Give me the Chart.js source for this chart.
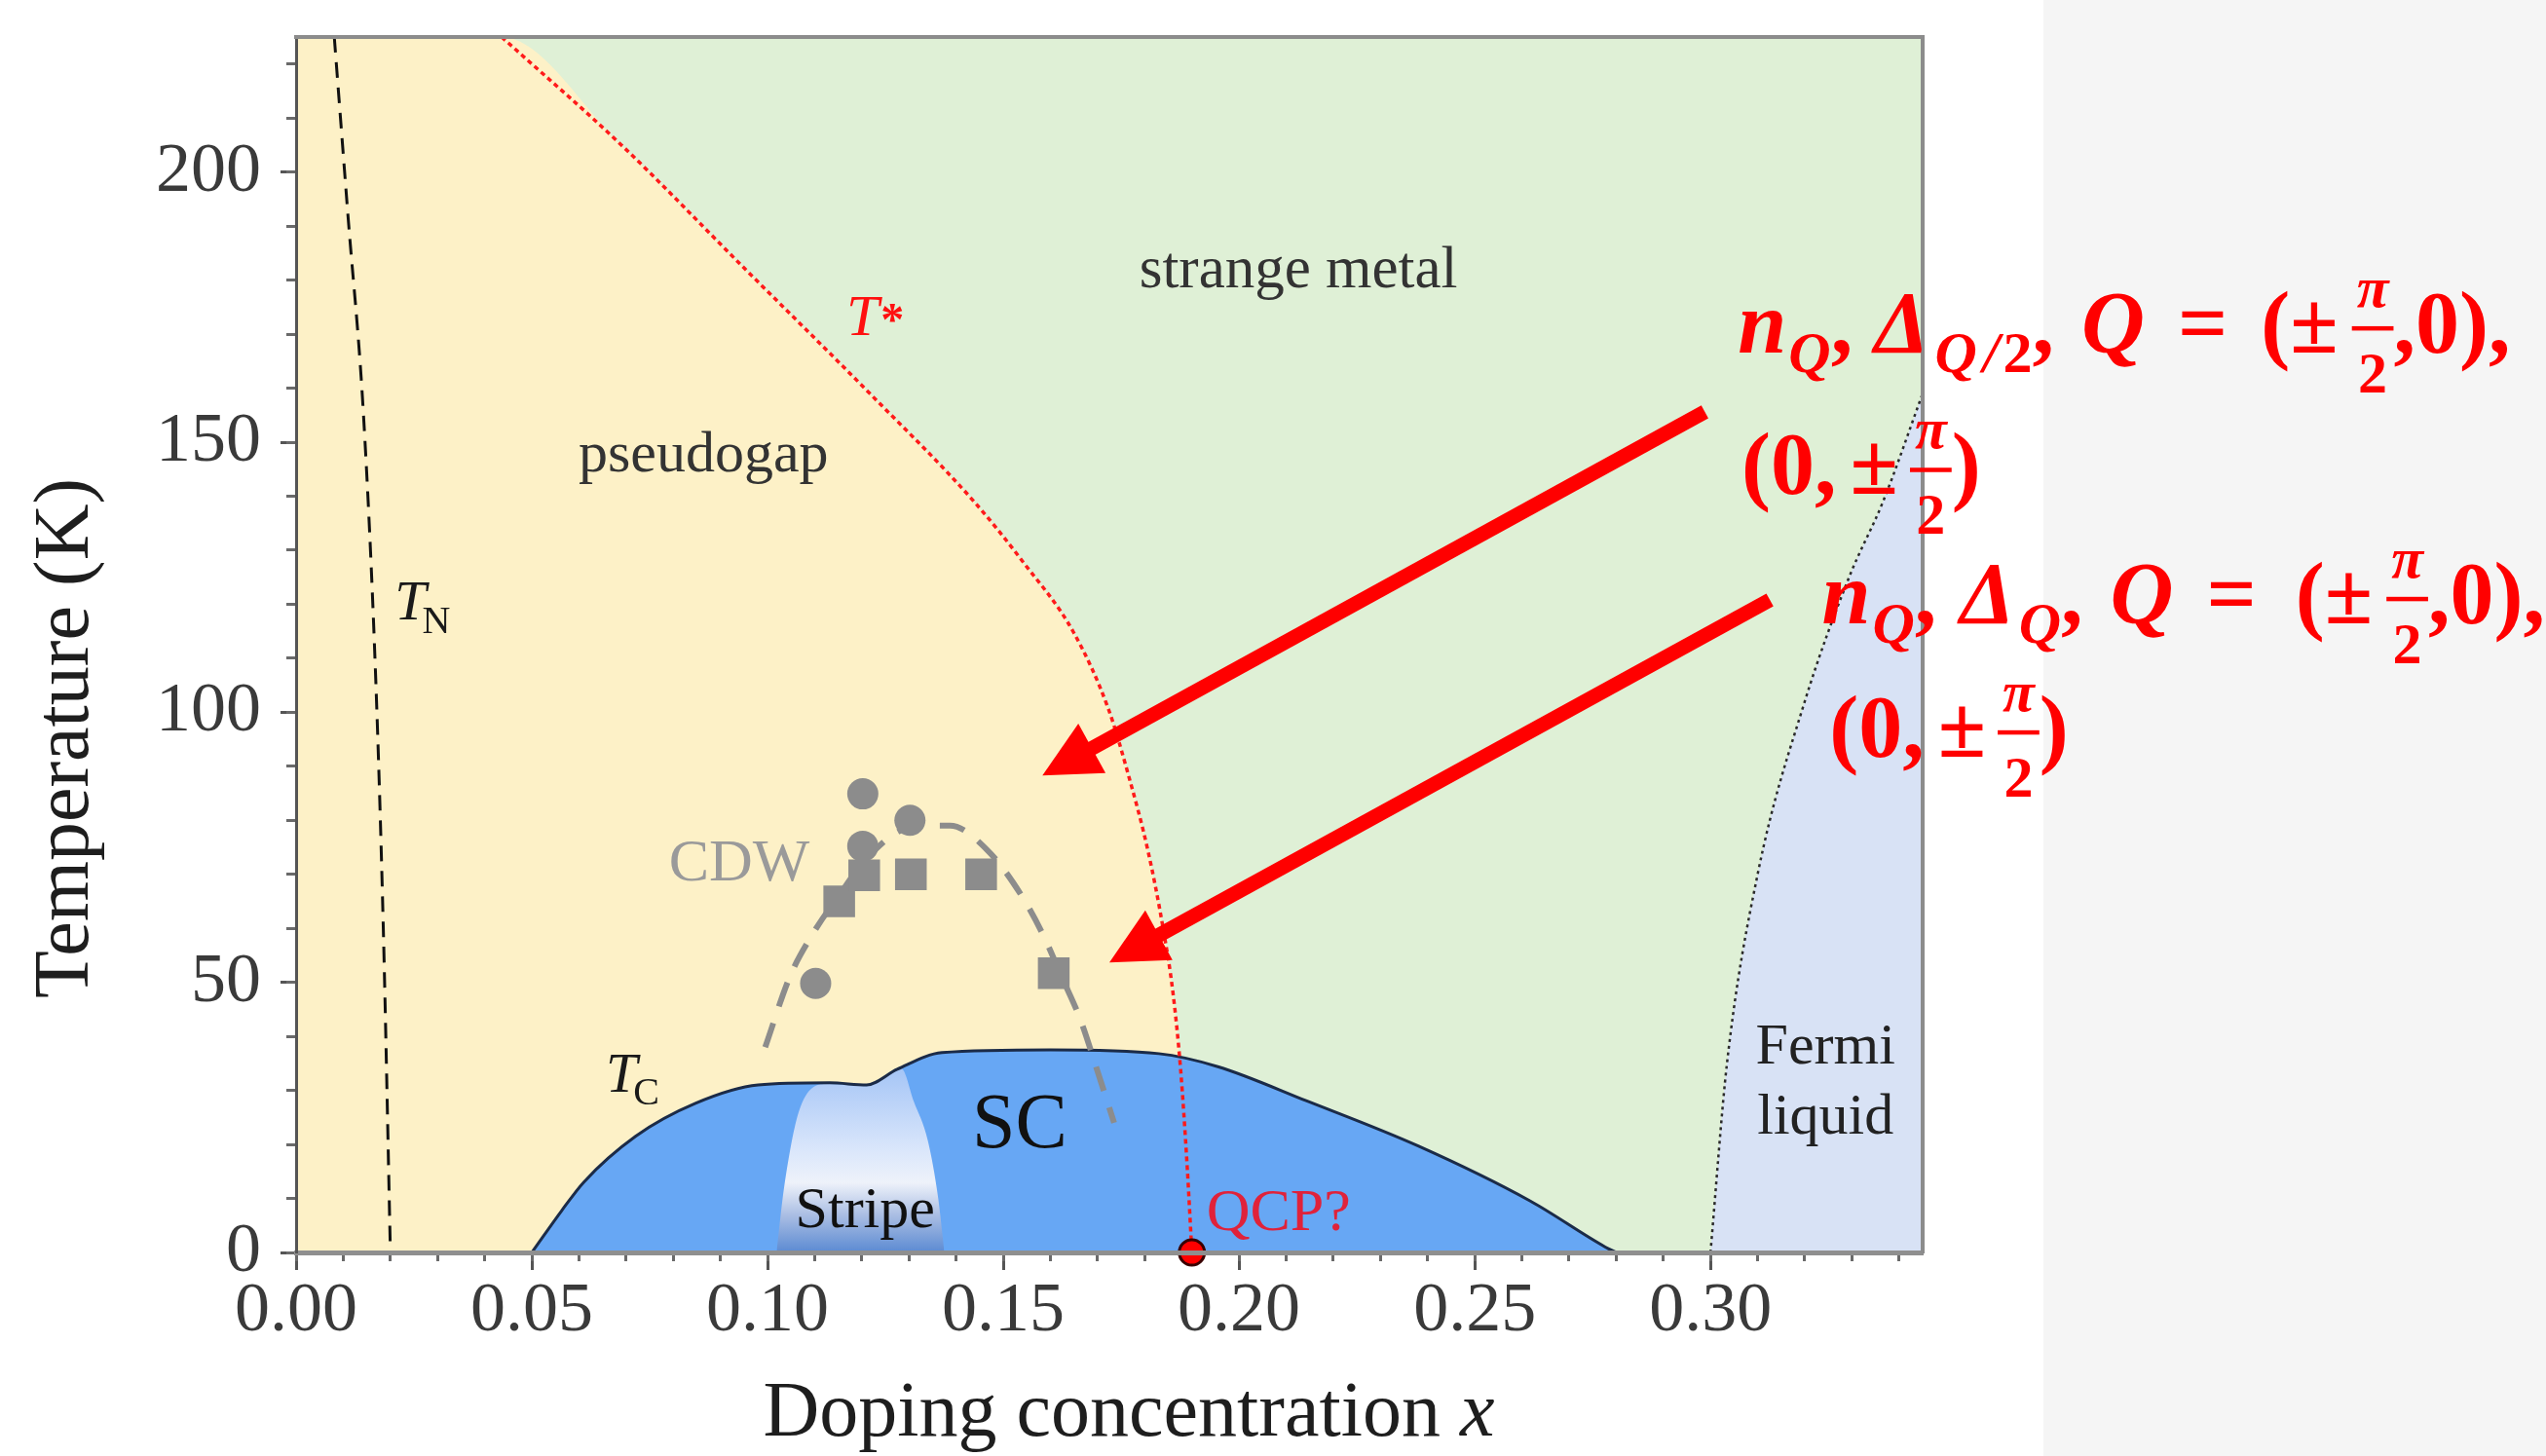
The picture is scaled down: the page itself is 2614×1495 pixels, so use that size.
<!DOCTYPE html>
<html>
<head>
<meta charset="utf-8">
<title>Cuprate phase diagram</title>
<script src="https://cdn.jsdelivr.net/npm/chart.js@4.4.1/dist/chart.umd.min.js"></script>
<style>
  html, body { margin: 0; padding: 0; }
  body {
    width: 2614px; height: 1495px; overflow: hidden;
    background: linear-gradient(to right, #ffffff 0, #ffffff 2098px, #f5f5f5 2098px);
  }
  canvas { display: block; }
</style>
</head>
<body>
<canvas id="phase" width="2614" height="1495"></canvas>
<script>
(function(){
  'use strict';

  // T* line (pseudogap onset)
  const tStarX = [0.0436, 0.069, 0.0953, 0.1217, 0.1438, 0.1543, 0.1649, 0.1723, 0.1765, 0.1807, 0.1839, 0.186, 0.1876, 0.189, 0.19];
  const tStarT = [225, 205, 182, 159, 139, 127.7, 114.8, 100.6, 88.5, 74.3, 60, 48, 34, 16, 0];

  // T_N line
  const tNeelX = [0.0081, 0.011, 0.0143, 0.0169, 0.0185, 0.02];
  const tNeelT = [225, 192, 155, 106, 60, 0];

  // Tc dome
  const domeX = [0.05, 0.0563, 0.061, 0.072, 0.0847, 0.098, 0.1132, 0.121, 0.1275, 0.137, 0.16, 0.183, 0.1955, 0.2145, 0.238, 0.2618, 0.2777, 0.28];
  const domeT = [0, 7.7, 13, 21.5, 27.6, 31, 31.4, 31, 33.9, 37, 37.5, 36.8, 34.4, 28, 19.7, 9.5, 1, 0];

  // stripe pocket inside the dome
  const stripeX = [0.1019, 0.1035, 0.107, 0.1126, 0.121, 0.1284, 0.131, 0.134, 0.1362, 0.1375];
  const stripeT = [0, 12, 27, 31.2, 30.8, 34, 28, 20.7, 10, 0];

  // Fermi liquid boundary
  const fermiX = [0.30, 0.3035, 0.31, 0.32, 0.3294, 0.3366, 0.345];
  const fermiT = [0, 35, 70, 102, 125, 139, 159];

  // CDW guide line and data
  const cdwX = [0.0995, 0.1047, 0.1094, 0.1153, 0.1213, 0.13, 0.1387, 0.1466, 0.1537, 0.1585, 0.1624, 0.1664, 0.170, 0.1735];
  const cdwT = [38, 51, 58.7, 66.3, 73.2, 78.6, 79, 74.5, 66.3, 58.7, 51, 43, 33.5, 24];
  const cdwCircleX = [0.1102, 0.1202, 0.1202, 0.1302];
  const cdwCircleT = [49.8, 84.9, 75.2, 80];
  const cdwSquareX = [0.1152, 0.1205, 0.1304, 0.1453, 0.1607];
  const cdwSquareT = [65, 69.8, 70, 70, 51.7];

  const qcpX = [0.19];
  const qcpT = [0];

  // annotation arrows (tail -> tip), data coordinates
  const arrowFromX = [0.2988, 0.3126];
  const arrowFromT = [155.6, 120.8];
  const arrowToX = [0.1583, 0.1725];
  const arrowToT = [88.3, 53.7];

  const xMin = 0, xMax = 0.345, xStep = 0.05, xMinorStep = 0.01;
  const tMin = 0, tMax = 225, tStep = 50, tMinorStep = 10;

  const green = '#dff0d6';
  const yellow = '#fdf1c7';
  const blue = '#67a7f4';
  const fermiBlue = '#d8e2f5';
  const red = '#ff0000';
  const serif = "'Liberation Serif', 'Times New Roman', serif";

  function pts(xs, ts) {
    return xs.map(function(x, i) { return {x: x, y: ts[i]}; });
  }

  function font(size, style) {
    return (style || '') + ' ' + size + 'px ' + serif;
  }

  let canvas = document.getElementById('phase');
  const smooth = 'monotone';

  let datasets = [
    {
      label: 'pseudogap',
      data: pts([0].concat(tStarX), [tMax].concat(tStarT)),
      borderWidth: 0, pointRadius: 0, cubicInterpolationMode: smooth,
      backgroundColor: yellow, fill: 'origin', order: 10
    },
    {
      label: 'Fermi liquid',
      data: pts(fermiX, fermiT),
      borderColor: '#2a2a2a', borderWidth: 2.5, borderDash: [3, 4], pointRadius: 0, cubicInterpolationMode: smooth,
      backgroundColor: fermiBlue, fill: 'origin', order: 9
    },
    {
      label: 'SC',
      data: pts(domeX, domeT),
      borderWidth: 0, pointRadius: 0, cubicInterpolationMode: smooth,
      backgroundColor: blue, fill: 'origin', order: 8
    },
    {
      label: 'Stripe',
      data: pts(stripeX, stripeT),
      borderWidth: 0, pointRadius: 0, fill: 'origin', order: 7, cubicInterpolationMode: smooth,
      backgroundColor: function(c) {
        const chart = c.chart;
        if (!chart.chartArea) return '#c8daf7';
        const y0 = chart.scales.y.getPixelForValue(0);
        const y1 = chart.scales.y.getPixelForValue(34);
        const g = chart.ctx.createLinearGradient(0, y1, 0, y0);
        g.addColorStop(0, '#a5c5f6');
        g.addColorStop(0.45, '#dbe7fb');
        g.addColorStop(0.62, '#eef2fa');
        g.addColorStop(0.8, '#a9bde3');
        g.addColorStop(1, '#5b8ad2');
        return g;
      }
    },
    {
      label: 'Tc',
      data: pts(domeX, domeT),
      borderColor: '#1b2b48', borderWidth: 3, pointRadius: 0, fill: false, order: 6, cubicInterpolationMode: smooth
    },
    {
      label: 'TN',
      data: pts(tNeelX, tNeelT),
      borderColor: '#111111', borderWidth: 3, borderDash: [16, 10], pointRadius: 0, fill: false, order: 5,
      cubicInterpolationMode: smooth
    },
    {
      label: 'T*',
      data: pts(tStarX, tStarT),
      borderColor: '#ff1a1a', borderWidth: 3.5, borderDash: [5, 4], pointRadius: 0, fill: false, order: 4,
      cubicInterpolationMode: smooth
    },
    {
      label: 'CDW',
      data: pts(cdwX, cdwT),
      borderColor: '#8c8c8c', borderWidth: 6, borderDash: [26, 18], pointRadius: 0, fill: false, order: 3,
      cubicInterpolationMode: smooth
    },
    {
      label: 'CDW squares',
      data: pts(cdwSquareX, cdwSquareT),
      showLine: false, pointStyle: 'rect', pointRadius: 23,
      pointBackgroundColor: '#8c8c8c', pointBorderWidth: 0, order: 2
    },
    {
      label: 'CDW circles',
      data: pts(cdwCircleX, cdwCircleT),
      showLine: false, pointStyle: 'circle', pointRadius: 16,
      pointBackgroundColor: '#8c8c8c', pointBorderWidth: 0, order: 2
    },
    {
      label: 'QCP',
      data: pts(qcpX, qcpT),
      showLine: false, pointRadius: 13, clip: false,
      pointBackgroundColor: red, pointBorderColor: '#3a0000', pointBorderWidth: 3, order: 0
    }
  ];

  let notes = [
    {text: 'strange metal', x: 0.2126, t: 178.7, size: 61, colour: '#333333'},
    {text: 'pseudogap', x: 0.0864, t: 144.6, size: 60, colour: '#333333'},
    {text: 'CDW', x: 0.094, t: 68.9, size: 62, colour: '#9a9a9a'},
    {text: 'SC', x: 0.1535, t: 19.5, size: 80, colour: '#111111'},
    {text: 'Stripe', x: 0.1207, t: 4.7, size: 60, colour: '#111111'},
    {text: 'Fermi', x: 0.3244, t: 35.0, size: 60, colour: '#222222'},
    {text: 'liquid', x: 0.3244, t: 22.0, size: 60, colour: '#222222'}
  ];

  let richNotes = [
    {x: 0.1167, t: 169.8, colour: '#ff1010', parts: [
      {s: 'T', size: 60, style: 'italic'}, {s: '*', size: 48, style: 'bold', gap: 2}]},
    {x: 0.0209, t: 117.2, colour: '#1a1a1a', parts: [
      {s: 'T', size: 58, style: 'italic'}, {s: 'N', size: 40, dy: 14, gap: -4}]},
    {x: 0.0657, t: 29.7, colour: '#1a1a1a', parts: [
      {s: 'T', size: 58, style: 'italic'}, {s: 'C', size: 40, dy: 13, gap: -4}]},
    {x: 0.1931, t: 4.15, colour: '#e0223a', parts: [
      {s: 'QCP?', size: 62}]}
  ];

  const M = 90, S = 60, F = 60;
  const BI = 'italic bold', B = 'bold';
  let formulas = [
    {x: 0.3058, t: 166.6, parts: [
      {s: 'n', size: M, style: BI}, {s: 'Q', size: S, style: BI, dy: 20, gap: 2}, {s: ',', size: M, style: B},
      {s: 'Δ', size: M, style: BI, gap: 22}, {s: 'Q', size: S, style: BI, dy: 20, gap: 6},
      {s: '/', size: S, style: BI, dy: 20, gap: 6}, {s: '2', size: S, style: B, dy: 20, gap: 4},
      {s: ',', size: M, style: B}, {s: 'Q', size: M, style: BI, gap: 28}, {s: '=', size: M, style: B, gap: 34},
      {s: '(', size: M, style: B, gap: 34}, {s: '±', size: M, style: B}, {frac: ['π', '2'], gap: 14},
      {s: ',', size: M, style: B}, {s: '0', size: M, style: B}, {s: ')', size: M, style: B}, {s: ',', size: M, style: B}]},
    {x: 0.3066, t: 140.4, parts: [
      {s: '(', size: M, style: B}, {s: '0', size: M, style: B}, {s: ',', size: M, style: B},
      {s: '±', size: M, style: B, gap: 14}, {frac: ['π', '2'], gap: 12}, {s: ')', size: M, style: B}]},
    {x: 0.3236, t: 116.5, parts: [
      {s: 'n', size: M, style: BI}, {s: 'Q', size: S, style: BI, dy: 20, gap: 2}, {s: ',', size: M, style: B},
      {s: 'Δ', size: M, style: BI, gap: 24}, {s: 'Q', size: S, style: BI, dy: 20, gap: 4},
      {s: ',', size: M, style: B}, {s: 'Q', size: M, style: BI, gap: 28}, {s: '=', size: M, style: B, gap: 34},
      {s: '(', size: M, style: B, gap: 40}, {s: '±', size: M, style: B}, {frac: ['π', '2'], gap: 14},
      {s: ',', size: M, style: B}, {s: '0', size: M, style: B}, {s: ')', size: M, style: B}, {s: ',', size: M, style: B}]},
    {x: 0.3252, t: 91.8, parts: [
      {s: '(', size: M, style: B}, {s: '0', size: M, style: B}, {s: ',', size: M, style: B},
      {s: '±', size: M, style: B, gap: 14}, {frac: ['π', '2'], gap: 12}, {s: ')', size: M, style: B}]}
  ];

  function drawParts(ctx, x, y, parts, colour) {
    ctx.fillStyle = colour;
    ctx.textAlign = 'left';
    ctx.textBaseline = 'alphabetic';
    parts.forEach(function(p) {
      x += p.gap || 0;
      if (p.frac) {
        ctx.font = font(F, BI);
        const wTop = ctx.measureText(p.frac[0]).width;
        ctx.font = font(F, B);
        const wBot = ctx.measureText(p.frac[1]).width;
        const w = Math.max(wTop, wBot) + 10;
        const bar = y - 25;
        ctx.fillRect(x, bar - 2, w, 4.5);
        ctx.font = font(F, BI);
        ctx.fillText(p.frac[0], x + (w - wTop) / 2, bar - 22);
        ctx.font = font(F, B);
        ctx.fillText(p.frac[1], x + (w - wBot) / 2, bar + 66);
        x += w;
        return;
      }
      ctx.font = font(p.size, p.style);
      ctx.fillText(p.s, x, y + (p.dy || 0));
      x += ctx.measureText(p.s).width;
    });
  }

  function drawArrow(ctx, x0, y0, x1, y1) {
    const dx = x1 - x0, dy = y1 - y0, len = Math.hypot(dx, dy);
    const ux = dx / len, uy = dy / len;
    const head = 58, half = 29;
    const bx = x1 - ux * head, by = y1 - uy * head;
    ctx.strokeStyle = red;
    ctx.fillStyle = red;
    ctx.lineWidth = 15;
    ctx.lineCap = 'butt';
    ctx.beginPath();
    ctx.moveTo(x0, y0);
    ctx.lineTo(bx + ux * 4, by + uy * 4);
    ctx.stroke();
    ctx.beginPath();
    ctx.moveTo(x1, y1);
    ctx.lineTo(bx - uy * half, by + ux * half);
    ctx.lineTo(bx + uy * half, by - ux * half);
    ctx.closePath();
    ctx.fill();
  }

  let annotate = {
    id: 'annotate',
    beforeDraw: function(chart) {
      const a = chart.chartArea;
      const ctx = chart.ctx;
      ctx.save();
      ctx.fillStyle = green;
      ctx.fillRect(a.left, a.top, a.right - a.left, a.bottom - a.top);
      ctx.restore();
    },
    afterDraw: function(chart) {
      const ctx = chart.ctx;
      const sx = chart.scales.x, sy = chart.scales.y;
      const a = chart.chartArea;
      ctx.save();

      arrowFromX.forEach(function(x, i) {
        drawArrow(ctx, sx.getPixelForValue(x), sy.getPixelForValue(arrowFromT[i]),
          sx.getPixelForValue(arrowToX[i]), sy.getPixelForValue(arrowToT[i]));
      });

      ctx.textAlign = 'center';
      ctx.textBaseline = 'alphabetic';
      notes.forEach(function(n) {
        ctx.font = font(n.size);
        ctx.fillStyle = n.colour;
        ctx.fillText(n.text, sx.getPixelForValue(n.x), sy.getPixelForValue(n.t));
      });

      richNotes.forEach(function(n) {
        drawParts(ctx, sx.getPixelForValue(n.x), sy.getPixelForValue(n.t), n.parts, n.colour);
      });

      formulas.forEach(function(f) {
        drawParts(ctx, sx.getPixelForValue(f.x), sy.getPixelForValue(f.t), f.parts, red);
      });

      // axis titles
      ctx.fillStyle = '#1e1e1e';
      ctx.font = font(80);
      ctx.textAlign = 'center';
      ctx.save();
      ctx.translate(a.left - 214, a.top + 720);
      ctx.rotate(-Math.PI / 2);
      ctx.fillText('Temperature (K)', 0, 0);
      ctx.restore();

      ctx.textAlign = 'left';
      const head = 'Doping concentration ';
      ctx.font = font(80);
      const w1 = ctx.measureText(head).width;
      ctx.font = font(80, 'italic');
      const w2 = ctx.measureText('x').width;
      const x0 = (a.left + a.right) / 2 + 20 - (w1 + w2) / 2;
      ctx.font = font(80);
      ctx.fillText(head, x0, a.bottom + 188);
      ctx.font = font(80, 'italic');
      ctx.fillText('x', x0 + w1, a.bottom + 188);

      ctx.restore();
    }
  };

  function frameAxis(position, weight) {
    return {
      type: 'linear', position: position, weight: weight,
      min: position === 'top' ? xMin : tMin, max: position === 'top' ? xMax : tMax,
      ticks: {display: false},
      grid: {display: true, drawOnChartArea: false, drawTicks: false},
      border: {display: true, color: '#8c8c8c', width: 4, z: 1},
      afterFit: function(s) {
        if (position === 'top') s.height = 0; else s.width = 0;
        s.paddingTop = 0; s.paddingBottom = 0;
      }
    };
  }

  let tickFont = {family: serif, size: 72};

  let options = {
    responsive: false,
    devicePixelRatio: 1,
    animation: false,
    events: [],
    layout: {padding: {top: 38, right: 640, bottom: 0, left: 0}},
    plugins: {legend: {display: false}, tooltip: {enabled: false}},
    scales: {
      x: {
        type: 'linear', position: 'bottom', weight: 1, min: xMin, max: xMax,
        ticks: {
          stepSize: xStep, includeBounds: false, maxTicksLimit: 100, autoSkip: false, maxRotation: 0,
          padding: 0, color: '#3a3a3a', font: tickFont,
          callback: function(v) { return Number(v).toFixed(2); }
        },
        grid: {drawOnChartArea: false, tickLength: 18, tickWidth: 3, tickColor: '#555555'},
        border: {display: true, color: '#8f8f8f', width: 5, z: 1},
        afterFit: function(s) { s.height = 209; }
      },
      xMinor: {
        type: 'linear', position: 'bottom', weight: 0, min: xMin, max: xMax,
        ticks: {display: false, stepSize: xMinorStep, includeBounds: false, maxTicksLimit: 100, autoSkip: false},
        grid: {drawOnChartArea: false, tickLength: 9, tickWidth: 3, tickColor: '#6a6a6a'},
        border: {display: false},
        afterFit: function(s) { s.height = 0; }
      },
      y: {
        type: 'linear', position: 'left', weight: 1, min: tMin, max: tMax,
        ticks: {
          stepSize: tStep, includeBounds: false, maxTicksLimit: 100,
          padding: 20, color: '#3a3a3a', font: tickFont
        },
        grid: {drawOnChartArea: false, tickLength: 16, tickWidth: 3, tickColor: '#555555'},
        border: {display: true, color: '#555555', width: 3, z: 1},
        afterFit: function(s) { s.width = 304; s.paddingTop = 0; s.paddingBottom = 0; }
      },
      yMinor: {
        type: 'linear', position: 'left', weight: 0, min: tMin, max: tMax,
        ticks: {display: false, stepSize: tMinorStep, includeBounds: false, maxTicksLimit: 100},
        grid: {drawOnChartArea: false, tickLength: 10, tickWidth: 3, tickColor: '#6a6a6a'},
        border: {display: false},
        afterFit: function(s) { s.width = 0; s.paddingTop = 0; s.paddingBottom = 0; }
      },
      xTop: frameAxis('top', 0),
      yRight: frameAxis('right', 0)
    }
  };

  //instantiating the chart
  let phaseChart = new Chart(canvas, {
    type: 'line',
    data: {datasets: datasets},
    options: options,
    plugins: [annotate]
  });

})();
</script>
</body>
</html>
